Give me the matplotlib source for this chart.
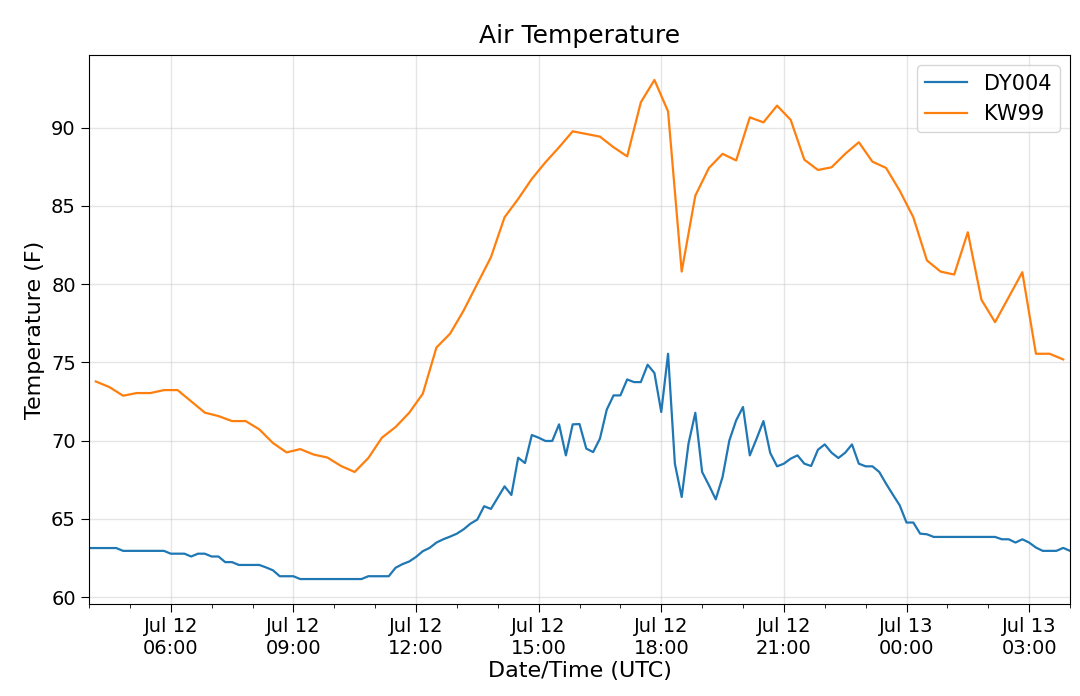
import matplotlib
matplotlib.use("Agg")
import matplotlib.pyplot as plt
import matplotlib.dates as mdates
import pandas as pd

# ---- data ----
start = pd.Timestamp("2018-07-12 04:00")

dy004_temps = [
    63.14, 63.14, 63.14, 63.14, 63.14,
    62.96, 62.96, 62.96, 62.96, 62.96, 62.96, 62.96,
    62.78, 62.78, 62.78, 62.60, 62.78, 62.78, 62.60, 62.60,
    62.24, 62.24, 62.06, 62.06, 62.06, 62.06, 61.90, 61.72,
    61.34, 61.34, 61.34,
    61.16, 61.16, 61.16, 61.16, 61.16, 61.16, 61.16, 61.16, 61.16, 61.16,
    61.34, 61.34, 61.34, 61.34,
    61.88, 62.11, 62.28, 62.57, 62.94, 63.15, 63.49, 63.70, 63.87, 64.06,
    64.34, 64.70, 64.96, 65.81, 65.64, 66.36, 67.08, 66.53, 68.91, 68.57,
    70.36, 70.19, 69.98, 69.98, 71.04, 69.06, 71.04, 71.06, 69.49, 69.27,
    70.13, 71.98, 72.89, 72.89, 73.91, 73.74, 73.74, 74.85, 74.32, 71.83,
    75.55, 68.53, 66.40, 69.81, 71.78, 68.00, 67.15, 66.25, 67.68, 70.02,
    71.30, 72.15, 69.06, 70.13, 71.25, 69.21, 68.36, 68.53, 68.85, 69.06,
    68.53, 68.38, 69.42, 69.76, 69.23, 68.89, 69.23, 69.76, 68.53, 68.36,
    68.36, 68.00, 67.25, 66.55, 65.87, 64.77, 64.77, 64.06, 64.02,
    63.85, 63.85, 63.85, 63.85, 63.85, 63.85, 63.85, 63.85, 63.85, 63.85,
    63.70, 63.70, 63.49, 63.70, 63.49, 63.17, 62.96, 62.96, 62.96, 63.15, 62.96,
]

kw99_minutes = [
    10, 30, 50, 70, 90, 110, 130, 170, 190, 210, 230, 250, 270, 290, 310,
    330, 350, 370, 390, 410, 430, 450, 470, 490, 510, 530, 550, 570, 590,
    610, 630, 650, 670, 690, 710, 730, 750, 770, 790, 810, 830, 850, 870,
    890, 910, 930, 950, 970, 990, 1010, 1030, 1050, 1070, 1090, 1110, 1130,
    1150, 1170, 1190, 1210, 1230, 1250, 1270, 1290, 1310, 1330, 1350, 1370,
    1390, 1410, 1430,
]
kw99_temps = [
    73.78, 73.42, 72.87, 73.04, 73.04, 73.23, 73.23, 71.79, 71.57, 71.25,
    71.25, 70.72, 69.85, 69.25, 69.46, 69.11, 68.92, 68.38, 68.00, 68.89,
    70.19, 70.87, 71.78, 73.00, 75.95, 76.83, 78.32, 80.02, 81.72, 84.27,
    85.44, 86.72, 87.78, 88.74, 89.76, 89.59, 89.42, 88.74, 88.16, 91.61,
    93.04, 91.03, 80.80, 85.65, 87.42, 88.32, 87.90, 90.65, 90.33, 91.40,
    90.49, 87.95, 87.29, 87.46, 88.32, 89.06, 87.82, 87.42, 85.97, 84.27,
    81.51, 80.80, 80.61, 83.31, 79.00, 77.57, 79.16, 80.76, 75.55, 75.55,
    75.19,
]

series_names = ["DY004", "KW99"]

dy004_times = pd.date_range(start, periods=len(dy004_temps), freq="10min")
kw99_times = [start + pd.Timedelta(minutes=m) for m in kw99_minutes]

# ---- plot ----
fig = plt.figure(figsize=(10.8, 6.96), dpi=100)
ax = fig.add_axes([89 / 1080, 1 - 604 / 696, (1070 - 89) / 1080, (604 - 55) / 696])

ax.plot(dy004_times, dy004_temps, color="#1f77b4", lw=1.6, label=series_names[0])
ax.plot(kw99_times, kw99_temps, color="#ff7f0e", lw=1.6, label=series_names[1])

ax.set_xlim(dy004_times[0], dy004_times[-1])
ax.margins(y=0.05)

ax.xaxis.set_major_locator(mdates.HourLocator(byhour=range(0, 24, 3)))
ax.xaxis.set_minor_locator(mdates.HourLocator())
ax.xaxis.set_major_formatter(mdates.DateFormatter("%b %d\n%H:%M"))

ax.grid(True, which="major", color="#cccccc", alpha=0.5, lw=1)
ax.tick_params(axis="both", which="major", labelsize=14, length=6)
ax.tick_params(axis="both", which="minor", length=3)

for lbl in ax.get_xticklabels():
    lbl.set_horizontalalignment("center")

ax.set_title("Air Temperature", fontsize=18, pad=9)
ax.set_xlabel("Date/Time (UTC)", fontsize=16, labelpad=2)
ax.set_ylabel("Temperature (F)", fontsize=16)

ax.legend(loc="upper right", fontsize=15)

fig.savefig("out.png", dpi=100)
